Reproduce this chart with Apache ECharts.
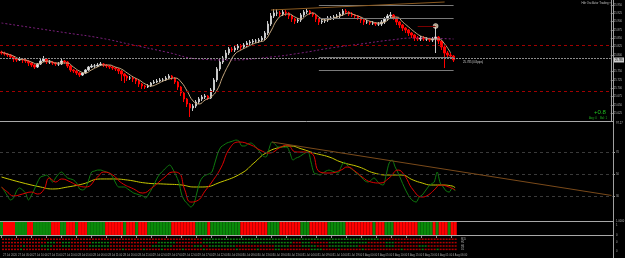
<!DOCTYPE html>
<html><head><meta charset="utf-8">
<script src="https://cdn.jsdelivr.net/npm/echarts@6/dist/echarts.min.js"></script>
<style>html,body{margin:0;padding:0;background:#000}#c{width:625px;height:258px}</style>
</head><body><div id="c"></div>
<script>
// ---------- DATA ----------
const firstOpen = 25.809;
const closes = [25.806,25.803,25.800,25.794,25.788,25.785,25.788,25.785,25.782,25.776,
25.770,25.764,25.773,25.782,25.788,25.779,25.779,25.776,25.773,25.773,
25.782,25.779,25.767,25.755,25.752,25.746,25.740,25.746,25.755,25.764,
25.767,25.767,25.770,25.773,25.770,25.767,25.764,25.761,25.758,25.752,
25.743,25.737,25.731,25.731,25.728,25.722,25.713,25.707,25.704,25.707,
25.716,25.719,25.722,25.725,25.725,25.731,25.737,25.731,25.719,25.704,
25.686,25.668,25.653,25.641,25.647,25.659,25.668,25.674,25.677,25.671,
25.695,25.725,25.758,25.779,25.791,25.806,25.818,25.815,25.821,25.827,
25.824,25.830,25.836,25.839,25.842,25.842,25.845,25.851,25.866,25.893,
25.917,25.926,25.926,25.923,25.929,25.926,25.917,25.908,25.902,25.905,
25.920,25.929,25.932,25.926,25.920,25.908,25.899,25.902,25.905,25.911,
25.911,25.914,25.917,25.923,25.932,25.929,25.923,25.920,25.917,25.911,
25.905,25.899,25.899,25.896,25.896,25.893,25.893,25.899,25.908,25.917,
25.920,25.911,25.899,25.890,25.881,25.875,25.866,25.860,25.851,25.848,
25.851,25.848,25.848,25.845,25.848,25.854,25.842,25.824,25.806,25.800,
25.797,25.785];
const highs = [25.813,25.810,25.806,25.803,25.797,25.791,25.794,25.791,25.788,25.785,
25.779,25.773,25.776,25.788,25.797,25.791,25.785,25.782,25.779,25.779,
25.788,25.785,25.782,25.770,25.758,25.755,25.749,25.749,25.758,25.767,
25.773,25.773,25.776,25.779,25.776,25.773,25.770,25.767,25.764,25.761,
25.755,25.746,25.740,25.737,25.734,25.731,25.725,25.716,25.710,25.713,
25.719,25.725,25.728,25.731,25.731,25.737,25.743,25.740,25.734,25.722,
25.707,25.689,25.671,25.656,25.653,25.665,25.674,25.680,25.683,25.680,
25.701,25.731,25.764,25.788,25.797,25.815,25.824,25.824,25.827,25.833,
25.833,25.836,25.842,25.845,25.848,25.848,25.851,25.857,25.872,25.902,
25.926,25.938,25.938,25.932,25.935,25.935,25.929,25.920,25.911,25.911,
25.926,25.935,25.938,25.935,25.929,25.923,25.911,25.908,25.911,25.917,
25.917,25.920,25.923,25.929,25.938,25.938,25.932,25.929,25.923,25.920,
25.914,25.908,25.905,25.902,25.902,25.899,25.899,25.905,25.914,25.923,
25.929,25.923,25.914,25.902,25.893,25.884,25.878,25.869,25.863,25.857,
25.857,25.857,25.854,25.851,25.854,25.890,25.857,25.845,25.827,25.812,
25.806,25.800];
const lows = [25.801,25.798,25.794,25.788,25.779,25.779,25.782,25.776,25.776,25.767,
25.764,25.758,25.761,25.770,25.779,25.773,25.773,25.770,25.767,25.767,
25.770,25.773,25.761,25.749,25.746,25.740,25.734,25.737,25.743,25.752,
25.761,25.761,25.764,25.767,25.764,25.761,25.758,25.755,25.752,25.743,
25.722,25.716,25.722,25.725,25.719,25.713,25.704,25.698,25.698,25.701,
25.704,25.713,25.716,25.719,25.719,25.722,25.728,25.725,25.713,25.695,
25.677,25.659,25.644,25.614,25.632,25.641,25.653,25.662,25.668,25.665,
25.668,25.689,25.719,25.752,25.773,25.785,25.800,25.809,25.809,25.815,
25.815,25.818,25.824,25.830,25.833,25.836,25.836,25.839,25.845,25.860,
25.887,25.911,25.917,25.914,25.917,25.917,25.908,25.899,25.893,25.896,
25.899,25.914,25.923,25.920,25.914,25.899,25.890,25.893,25.896,25.899,
25.905,25.905,25.908,25.911,25.917,25.923,25.917,25.914,25.911,25.905,
25.896,25.890,25.893,25.890,25.890,25.887,25.887,25.887,25.893,25.902,
25.911,25.905,25.890,25.881,25.872,25.866,25.857,25.851,25.842,25.842,
25.842,25.842,25.842,25.839,25.839,25.806,25.833,25.815,25.761,25.791,
25.788,25.779];
// fast moving average (bar index, price)
const maPoints = [[0,25.809],[2,25.803],[4,25.797],[6,25.788],[8,25.785],[10,25.779],[12,25.773],[14,25.779],[16,25.782],[18,25.776],
[20,25.776],[22,25.776],[24,25.764],[26,25.752],[28,25.746],[30,25.755],[32,25.764],[34,25.770],[36,25.770],[38,25.764],
[40,25.758],[42,25.746],[44,25.734],[46,25.725],[48,25.713],[50,25.707],[52,25.713],[54,25.722],[56,25.728],[58,25.731],
[60,25.719],[62,25.692],[64,25.662],[66,25.653],[68,25.665],[70,25.674],[72,25.695],[74,25.737],[76,25.773],[78,25.803],
[80,25.815],[82,25.824],[84,25.833],[86,25.839],[88,25.845],[90,25.872],[92,25.905],[94,25.920],[96,25.923],[98,25.914],
[100,25.908],[102,25.920],[104,25.926],[106,25.914],[108,25.905],[110,25.908],[112,25.914],[114,25.920],[116,25.926],[118,25.920],
[120,25.914],[122,25.905],[124,25.899],[126,25.896],[128,25.899],[130,25.911],[132,25.914],[134,25.899],[136,25.884],[138,25.869],
[140,25.857],[142,25.851],[144,25.848],[146,25.848],[148,25.833],[150,25.806]];
// slow moving average (purple dotted)
const slowMaPoints = [[0,25.896],[11,25.881],[22,25.866],[33,25.851],[44,25.830],[55,25.809],[66,25.788],[76,25.785],[90,25.794],[100,25.806],[110,25.821],[120,25.833],[130,25.845],[138,25.851],[151,25.848]];
// oscillator lines
const oscFast = [38.2,34.5,30.0,26.4,28.2,34.5,37.3,35.5,32.7,26.4,
30.9,36.4,42.7,47.3,48.2,49.1,46.4,42.7,46.4,50.0,
51.8,49.1,46.4,45.5,44.5,41.8,36.4,35.5,37.3,44.5,
51.8,52.7,53.6,53.6,52.7,51.8,50.9,47.3,41.8,38.2,
38.2,38.2,36.4,34.5,32.7,31.8,30.9,30.0,28.2,31.8,
36.4,41.8,47.3,50.9,53.6,56.4,58.2,54.5,49.1,42.7,
30.9,25.5,22.7,20.0,22.7,32.7,42.7,47.3,49.1,50.0,
51.8,60.0,69.1,74.5,76.4,78.2,79.1,80.0,80.9,80.0,
75.5,75.5,77.3,78.2,76.4,73.6,70.0,66.4,65.5,72.7,
79.1,77.3,74.5,74.5,74.5,74.5,69.1,62.7,64.5,65.5,
67.3,69.1,70.0,60.9,50.9,50.0,49.1,50.9,52.7,53.6,
52.7,51.8,50.9,56.4,60.9,58.2,55.5,53.6,50.9,49.1,
46.4,43.6,42.7,44.5,46.4,43.6,40.9,40.0,49.1,60.0,
62.7,56.4,50.9,44.5,38.2,32.7,28.2,25.5,24.5,29.1,
30.9,34.5,38.2,40.9,42.7,51.8,41.8,38.2,34.5,33.6,
37.3,34.5];
const oscSignal = [[0,38.2],[2,33.6],[4,30.0],[7,31.8],[10,33.6],[12,31.8],[14,35.5],[16,46.4],[18,42.7],[20,45.5],
[23,42.7],[25,40.0],[28,38.2],[32,47.3],[34,51.8],[37,49.1],[40,41.8],[44,36.4],[47,32.7],[50,37.3],
[54,46.4],[57,51.8],[59,50.9],[61,35.5],[63,24.5],[65,25.5],[68,35.5],[70,42.7],[73,55.5],[76,73.6],
[79,79.1],[83,76.4],[86,71.8],[89,69.1],[93,74.5],[95,76.4],[98,70.0],[100,70.0],[103,69.1],[106,51.8],
[109,50.9],[113,53.6],[115,56.4],[118,51.8],[120,47.3],[123,42.7],[126,41.8],[129,46.4],[132,53.6],[134,49.1],
[137,35.5],[140,29.1],[142,30.9],[144,35.5],[146,40.0],[148,39.1],[151,35.5]];
const oscSlow = [[0,47.3],[6,42.7],[13,38.2],[17,36.4],[22,38.2],[27,40.9],[33,45.5],[37,45.5],[42,44.5],[48,41.8],
[54,40.9],[60,40.0],[64,38.2],[67,38.2],[73,42.7],[80,50.9],[84,60.0],[88,69.1],[93,74.5],[96,75.5],
[100,72.7],[104,69.1],[109,65.5],[113,60.9],[119,56.4],[124,50.9],[129,49.1],[133,49.1],[137,44.5],[140,41.8],
[143,40.0],[146,40.0],[150,39.1],[151,37.3]];
// histogram colours (run lengths, r = red, g = green)
const histRuns = "g1 r4 g4 r2 g6 r3 g2 r3 g1 r3 g6 r6 g1 r3 g1 r3 g8 r8 g4 r1 g10 r9 g4 r7 g3 r6 g6 r9 g1 r3 g3 r8 g5 r1 g1 r3 g1 r2";
const dotRow1 = "r67 g59 r26";
const dotRow2 = "r15 g3 r2 g3 r7 g6 r16 g6 r9 g30 r3 g3 r6 g13 r6 g3 r21";
const dotRow3 = "r7 g1 r5 g4 r3 g3 r6 g7 r14 g7 r7 g3 r2 g9 r13 g5 r4 g5 r4 g10 r9 g3 r8 g3 r10";
const dotRow4 = "r6 g1 r8 g1 r24 g1 r6 g1 r5 g1 r6 g1 r6 g1 r10 g1 r6 g1 r5 g2 r10 g4 r5 g1 r7 g1 r12 g1 r6 g1 r4 g1 r6";
const dotRowNames = ["M15","H1","H4","D1"];
const priceTicks = [25.625,25.650,25.675,25.700,25.725,25.750,25.800,25.825,25.850,25.875,25.900,25.925,25.950];
const oscTicks = [30,50,70];
const timeLabels = ["27 Jul 2020","27 Jul 05:00","27 Jul 10:00","27 Jul 15:00","27 Jul 20:00","28 Jul 01:00","28 Jul 06:00","28 Jul 11:00",
"28 Jul 16:00","28 Jul 21:00","29 Jul 02:00","29 Jul 07:00","29 Jul 12:00","29 Jul 17:00","29 Jul 22:00","30 Jul 03:00",
"30 Jul 08:00","30 Jul 13:00","30 Jul 18:00","30 Jul 23:00","31 Jul 04:00","31 Jul 09:00","31 Jul 14:00","31 Jul 19:00",
"3 Aug 00:00","3 Aug 05:00","3 Aug 10:00","3 Aug 15:00","3 Aug 20:00","4 Aug 01:00","4 Aug 06:00"];
const lastPrice = 25.785;
const TOTAL_SLOTS = 204;

// ---------- BUILD ----------
function expand(runs){return runs.trim().split(/\s+/).flatMap(t=>Array(parseInt(t.slice(1),10)).fill(t[0]));}
const cats = Array.from({length:TOTAL_SLOTS},(_,i)=>String(i));
const candleData = closes.map((c,i)=>[i?closes[i-1]:firstOpen, c, lows[i], highs[i]]);
const RED='#ff0000', HGREEN='#0a8a0a', DGREEN='#14a014';
const histData = expand(histRuns).map(k=>({value:1,itemStyle:{color:k==='g'?HGREEN:RED}}));
const rowY=[0.8,1.65,2.5,3.35];
const dotData=[];
[dotRow1,dotRow2,dotRow3,dotRow4].forEach((r,ri)=>expand(r).forEach((k,i)=>dotData.push({value:[i,rowY[ri]],itemStyle:{color:k==='g'?DGREEN:'#e00000'}})));
const FONT='Liberation Sans';
const isLabel=(idx)=>idx%5===0 && idx/5<timeLabels.length;

function xAx(g,showLab){
  return {type:'category',gridIndex:g,data:cats,boundaryGap:true,
    axisLine:{show:false},
    axisTick:{show:showLab,interval:(i)=>isLabel(i),length:2,lineStyle:{color:'#909090'}},
    axisLabel:{show:showLab,interval:(i)=>isLabel(i),formatter:(v,i)=>timeLabels[Math.round(i/5)]||'',
      fontSize:2.7,color:'#a8a8a8',fontFamily:FONT,align:'left',margin:2},
    splitLine:{show:false}};
}
const axLine={show:true,lineStyle:{color:'#a0a0a0',width:1}};
const chart = echarts.init(document.getElementById('c'),null,{renderer:'canvas'});
const opt = {
  backgroundColor:'#000',animation:false,
  grid:[
    {left:0,top:0,width:613,height:121},
    {left:0,top:122,width:613,height:96},
    {left:0,top:222,width:613,height:13},
    {left:0,top:236,width:613,height:16}
  ],
  xAxis:[xAx(0,false),xAx(1,false),xAx(2,false),xAx(3,true)],
  yAxis:[
    {gridIndex:0,type:'value',position:'right',min:25.602,max:25.965,axisLine:axLine,
     axisTick:{show:true,customValues:priceTicks,length:2,lineStyle:{color:'#a0a0a0'}},
     axisLabel:{customValues:priceTicks,formatter:v=>v.toFixed(3),fontSize:2.7,color:'#b8b8b8',fontFamily:FONT,margin:3},
     splitLine:{show:false}},
    {gridIndex:1,type:'value',position:'right',min:10,max:97.3,axisLine:axLine,
     axisTick:{show:true,customValues:oscTicks,length:2,lineStyle:{color:'#a0a0a0'}},
     axisLabel:{customValues:oscTicks,formatter:v=>String(v),fontSize:2.7,color:'#b8b8b8',fontFamily:FONT,margin:3},
     splitLine:{show:false}},
    {gridIndex:2,type:'value',position:'right',min:0,max:1,axisLine:axLine,axisTick:{show:false},axisLabel:{show:false},splitLine:{show:false}},
    {gridIndex:3,type:'value',position:'right',min:0,max:4,inverse:true,axisLine:axLine,axisTick:{show:false},axisLabel:{show:false},splitLine:{show:false}}
  ],
  series:[
    {type:'candlestick',xAxisIndex:0,yAxisIndex:0,data:candleData,barWidth:2,
     itemStyle:{color:'#f2f2f2',color0:RED,borderColor:'#c8c8c8',borderColor0:RED,borderWidth:1},
     markLine:{silent:true,symbol:'none',animation:false,label:{show:false},
      data:[
        {yAxis:25.833,lineStyle:{color:'#a00000',type:[3,3],width:1}},
        {yAxis:25.689,lineStyle:{color:'#a00000',type:[3,3],width:1}},
        {yAxis:lastPrice,lineStyle:{color:'#8c8c8c',type:[2,1],width:1}},
        [{coord:[106,25.950],lineStyle:{color:'#7a7a7a',type:'solid',width:1}},{coord:[151,25.950]}],
        [{coord:[106,25.911],lineStyle:{color:'#7a7a7a',type:'solid',width:1}},{coord:[151,25.911]}],
        [{coord:[106,25.794],lineStyle:{color:'#7a7a7a',type:'solid',width:1}},{coord:[151,25.794]}],
        [{coord:[106,25.755],lineStyle:{color:'#7a7a7a',type:'solid',width:1}},{coord:[151,25.755]}],
        [{coord:[90,25.935],lineStyle:{color:'#8b5a20',type:'solid',width:1}},{coord:[148,25.959]}],
        [{coord:[139,25.887],lineStyle:{color:'#7a0000',type:'solid',width:1}},{coord:[145,25.887]}]
      ]}},
    {type:'line',xAxisIndex:0,yAxisIndex:0,data:slowMaPoints,smooth:true,symbol:'none',
     lineStyle:{color:'#7a1f7a',width:1,type:[2,2]}},
    {type:'line',xAxisIndex:0,yAxisIndex:0,data:maPoints,smooth:true,symbol:'none',
     lineStyle:{color:'#c4a67e',width:1}},
    {type:'scatter',xAxisIndex:0,yAxisIndex:0,data:[[145,25.887]],symbolSize:5,
     itemStyle:{color:'#d8c2a2',borderColor:'#ffffff',borderWidth:0.5}},
    {type:'line',xAxisIndex:1,yAxisIndex:1,data:oscSlow,smooth:true,symbol:'none',
     lineStyle:{color:'#c8c800',width:1},
     markLine:{silent:true,symbol:'none',label:{show:false},
      data:[
        {yAxis:70,lineStyle:{color:'#3a3a3a',type:[3,3],width:1}},
        {yAxis:50,lineStyle:{color:'#3a3a3a',type:[3,3],width:1}},
        {yAxis:30,lineStyle:{color:'#3a3a3a',type:[3,3],width:1}},
        [{coord:[90,79.1],lineStyle:{color:'#7a4a1a',type:'solid',width:1}},{coord:[203,30.5]}]
      ]}},
    {type:'line',xAxisIndex:1,yAxisIndex:1,data:oscFast,smooth:0.3,symbol:'none',
     lineStyle:{color:'#0f7a0f',width:1}},
    {type:'line',xAxisIndex:1,yAxisIndex:1,data:oscSignal,smooth:true,symbol:'none',
     lineStyle:{color:'#e00000',width:1}},
    {type:'bar',xAxisIndex:2,yAxisIndex:2,data:histData,barCategoryGap:'0%',barWidth:'100%'},
    {type:'scatter',xAxisIndex:3,yAxisIndex:3,data:dotData,symbol:'rect',symbolSize:[2,1.5]}
  ],
  graphic:[
    {type:'line',shape:{x1:0,y1:121.5,x2:613,y2:121.5},style:{stroke:'#a8a8a8',lineWidth:1},silent:true},
    {type:'line',shape:{x1:0,y1:221.5,x2:613,y2:221.5},style:{stroke:'#a8a8a8',lineWidth:1},silent:true},
    {type:'line',shape:{x1:0,y1:235.5,x2:613,y2:235.5},style:{stroke:'#a8a8a8',lineWidth:1},silent:true},
    {type:'line',shape:{x1:613.5,y1:0,x2:613.5,y2:258},style:{stroke:'#a0a0a0',lineWidth:1},silent:true},
    {type:'text',x:611,y:3,style:{text:'Hdr Oscillator Trading \u25A1',fill:'#c0c0c0',fontSize:2.8,fontFamily:FONT,textAlign:'right',textVerticalAlign:'middle',align:'right',verticalAlign:'middle'}},
    {type:'text',x:600,y:112,style:{text:'+0.8',fill:'#20c020',fontSize:6,fontFamily:FONT,textAlign:'center',textVerticalAlign:'middle',align:'center',verticalAlign:'middle'}},
    {type:'text',x:598,y:118,style:{text:'Avg: 0    Bal: 1',fill:'#20b020',fontSize:2.8,fontFamily:FONT,textAlign:'center',textVerticalAlign:'middle',align:'center',verticalAlign:'middle'}},
    {type:'text',x:463,y:62,style:{text:'25.785 (0.8pips)',fill:'#d0d0d0',fontSize:2.8,fontFamily:FONT,textAlign:'left',textVerticalAlign:'middle',align:'left',verticalAlign:'middle'}},
    {type:'rect',shape:{x:614,y:57.5,width:10,height:5},style:{fill:'#c8c8c8'},silent:true},
    {type:'text',x:619,y:60,style:{text:lastPrice.toFixed(3),fill:'#000',fontSize:2.7,fontFamily:FONT,textAlign:'center',textVerticalAlign:'middle',align:'center',verticalAlign:'middle'}},
    {type:'text',x:616,y:123,style:{text:'97.27',fill:'#b8b8b8',fontSize:2.7,fontFamily:FONT,textVerticalAlign:'middle',verticalAlign:'middle'}},
    {type:'text',x:616,y:221,style:{text:'1.0000',fill:'#b8b8b8',fontSize:2.7,fontFamily:FONT,textVerticalAlign:'middle',verticalAlign:'middle'}},
    {type:'text',x:616,y:225,style:{text:'1',fill:'#b8b8b8',fontSize:2.7,fontFamily:FONT,textVerticalAlign:'middle',verticalAlign:'middle'}},
    {type:'text',x:616,y:235,style:{text:'0',fill:'#b8b8b8',fontSize:2.7,fontFamily:FONT,textVerticalAlign:'middle',verticalAlign:'middle'}},
    {type:'text',x:616,y:242,style:{text:'0',fill:'#b8b8b8',fontSize:2.7,fontFamily:FONT,textVerticalAlign:'middle',verticalAlign:'middle'}},
    {type:'text',x:616,y:251,style:{text:'0',fill:'#b8b8b8',fontSize:2.7,fontFamily:FONT,textVerticalAlign:'middle',verticalAlign:'middle'}}
  ].concat(dotRowNames.map((n,k)=>({type:'text',x:461,y:[239,242.4,245.8,249.2][k],style:{text:n,fill:'#b0b0b0',fontSize:2.6,fontFamily:FONT,textVerticalAlign:'middle',verticalAlign:'middle'}})))
};
chart.setOption(opt);
</script>
</body></html>
